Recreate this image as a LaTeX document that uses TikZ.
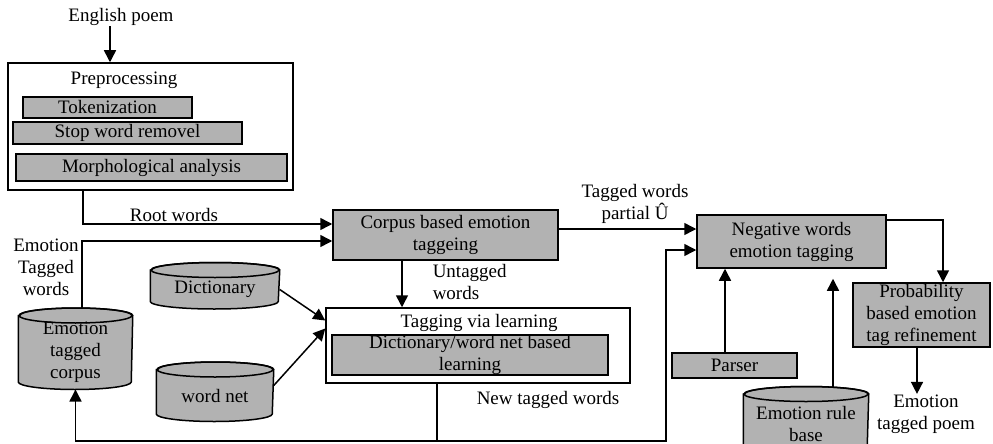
\documentclass[tikz,border=0pt]{standalone}
\usepackage{fontspec}
\setmainfont{Liberation Serif}
\usetikzlibrary{arrows.meta,backgrounds}

\begin{document}
\begin{tikzpicture}[x=1pt,y=-1pt,line width=1.5pt,
	every node/.style={font=\fontsize{19}{22}\selectfont,align=center,inner sep=0pt},
	gbox/.style={draw,fill=black!30},
	wbox/.style={draw,fill=white},
	arr/.style={-{Triangle[length=12pt,width=12pt]}}]
			\useasboundingbox (0,0) rectangle (993,444);
			\node (poem) at (121,17) {English poem};
			\node[wbox,minimum width=285pt,minimum height=127pt] (pre) at (150.5,126.5) {};
			\node (pret) at (124,80) {Preprocessing};
			\node[gbox,minimum width=169pt,minimum height=21pt] (tok) at (107.5,107.5) {Tokenization};
			\node[gbox,minimum width=229pt,minimum height=22pt] (stop) at (127.5,133) {Stop word removel};
			\node[gbox,minimum width=271pt,minimum height=27pt] (morph) at (151.5,167.5) {Morphological analysis};
			\node[gbox,minimum width=225pt,minimum height=50pt] (corpus) at (445.5,235) {Corpus based emotion\\taggeing};
			\node[wbox,minimum width=304pt,minimum height=75pt] (learn) at (478,345.5) {};
			\node (learnt) at (479,323) {Tagging via learning};
			\node[gbox,minimum width=276pt,minimum height=40pt] (dwn) at (470,355) {Dictionary/word net based\\learning};
			\node[gbox,minimum width=189pt,minimum height=53pt] (neg) at (791.5,241.5) {Negative words\\emotion tagging};
			\node[gbox,minimum width=137pt,minimum height=64pt] (prob) at (921.5,315) {Probability\\based emotion\\tag refinement};
			\node[gbox,minimum width=125pt,minimum height=25pt] (parser) at (734.5,365.5) {Parser};
			\node[minimum width=113pt,minimum height=72.5pt] (etc) at (75.5,352.5) {Emotion\\tagged\\corpus};
			\node[minimum width=128pt,minimum height=37.5pt] (dict) at (215,289.5) {Dictionary};
			\node[minimum width=116pt,minimum height=50.5pt] (wnet) at (215,395.5) {word net};
			\node[minimum width=124pt,minimum height=57.5pt] (rule) at (806,423.5) {Emotion rule\\base};
			\begin{scope}[on background layer,line width=1.5pt]
			\foreach \n/\r in {etc/56.5,dict/64,wnet/58,rule/62}{
				\draw[line width=1.5pt,fill=black!30] (\n.north west) -- ([yshift=7.5pt]\n.south west)
					arc[start angle=180,end angle=360,x radius=\r pt,y radius=7.5pt]
					-- (\n.north east) arc[start angle=0,end angle=180,x radius=\r pt,y radius=7.5pt] -- cycle;
				\draw[line width=1.5pt] (\n.north) ellipse[x radius=\r pt,y radius=7.5pt];
			}
			\end{scope}
			\node (root) at (174,215) {Root words};
			\node (etw) at (46,267) {Emotion\\Tagged\\words};
			\node[anchor=west,align=left] (untag) at (432,282) {Untagged\\words};
			\node (newt) at (548,400) {New tagged words};
			\node (tagp) at (635,204) {Tagged words\\partial Û};
			\node (out) at (926,414) {Emotion\\tagged poem};
			\coordinate (fb) at (437,441);
			\coordinate (fb2) at (666,441);
			\draw[arr] ([xshift=-11pt]poem.south) -- ([xshift=-11pt]poem.south |- pre.north);
			\draw[arr] ([xshift=-67.5pt]pre.south) |- ([yshift=11pt]corpus.west);
			\draw[arr] ([xshift=6.5pt,yshift=7.5pt]etc.north) |- ([yshift=-6pt]corpus.west);
			\draw[arr] ([xshift=-43.5pt]corpus.south) -- ([xshift=-43.5pt]corpus.south |- learn.north);
			\draw[arr] (dict.east) -- ([yshift=25pt]learn.west);
			\draw[arr] ([yshift=10pt]wnet.east) -- ([yshift=17pt]learn.west);
			\draw[arr] ([xshift=-41pt]learn.south) -- (fb) -| (etc.south);
			\draw[arr] (fb) -- (fb2) |- ([yshift=-8.5pt]neg.west);
			\draw[arr] ([yshift=6pt]corpus.east) -- ([yshift=6pt]corpus.east -| neg.west);
			\draw[arr] ([xshift=-9.5pt]parser.north) -- ([xshift=-9.5pt]parser.north |- neg.south);
			\draw[arr,shorten >=10pt] ([xshift=27pt,yshift=7pt]rule.north) -- ([xshift=27pt]rule.north |- neg.south);
			\draw[arr] ([yshift=21.5pt]neg.east) -| ([xshift=21.5pt]prob.north);
			\draw[arr] ([xshift=-4.5pt]prob.south) -- ([xshift=-4.5pt]prob.south |- out.north);
		\end{tikzpicture}
\end{document}
